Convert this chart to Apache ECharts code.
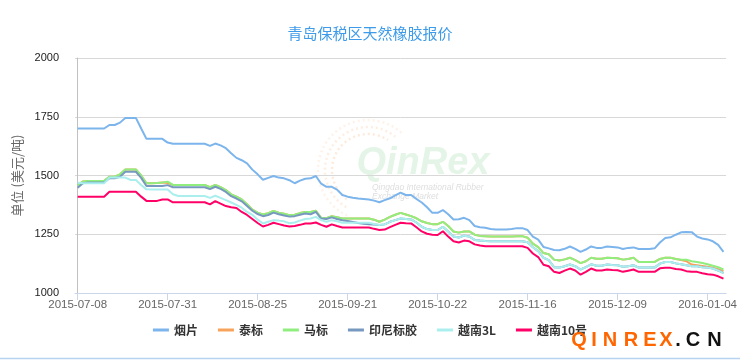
<!DOCTYPE html>
<html>
<head>
<meta charset="utf-8">
<script src="https://cdn.jsdelivr.net/npm/echarts@6/dist/echarts.min.js"></script>
<style>html,body{margin:0;padding:0;background:#fff}#c{width:740px;height:362px}</style>
</head>
<body>
<div id="c"></div>
<script>
var dates = ['2015-07-08','2015-07-09','2015-07-10','2015-07-13','2015-07-14','2015-07-15','2015-07-16','2015-07-17','2015-07-20','2015-07-21','2015-07-22','2015-07-23','2015-07-24','2015-07-27','2015-07-28','2015-07-29','2015-07-30','2015-07-31',
'2015-08-03','2015-08-04','2015-08-05','2015-08-06','2015-08-07','2015-08-10','2015-08-11','2015-08-12','2015-08-13','2015-08-14','2015-08-17','2015-08-18','2015-08-19','2015-08-20','2015-08-21','2015-08-24','2015-08-25',
'2015-08-26','2015-08-27','2015-08-28','2015-08-31','2015-09-01','2015-09-02','2015-09-07','2015-09-08','2015-09-09','2015-09-10','2015-09-11','2015-09-14','2015-09-15','2015-09-16','2015-09-17','2015-09-18','2015-09-21',
'2015-09-22','2015-09-23','2015-09-24','2015-09-25','2015-09-28','2015-09-29','2015-10-08','2015-10-09','2015-10-12','2015-10-13','2015-10-14','2015-10-15','2015-10-16','2015-10-19','2015-10-20','2015-10-21','2015-10-22',
'2015-10-23','2015-10-26','2015-10-27','2015-10-28','2015-10-29','2015-10-30','2015-11-02','2015-11-03','2015-11-04','2015-11-05','2015-11-06','2015-11-09','2015-11-10','2015-11-11','2015-11-12','2015-11-13','2015-11-16',
'2015-11-17','2015-11-18','2015-11-19','2015-11-20','2015-11-23','2015-11-24','2015-11-25','2015-11-26','2015-11-27','2015-11-30','2015-12-01','2015-12-02','2015-12-03','2015-12-04','2015-12-07','2015-12-08','2015-12-09',
'2015-12-10','2015-12-11','2015-12-14','2015-12-15','2015-12-16','2015-12-17','2015-12-18','2015-12-21','2015-12-22','2015-12-23','2015-12-24','2015-12-25','2015-12-28','2015-12-29','2015-12-30','2015-12-31','2016-01-04',
'2016-01-05','2016-01-06','2016-01-07'];

var tickLabels = ['2015-07-08','2015-07-31','2015-08-25','2015-09-21','2015-10-22','2015-11-16','2015-12-09','2016-01-04'];
var seriesNames = ['烟片','泰标','马标','印尼标胶','越南3L','越南10号'];

var yanpian = [1700,1700,1700,1700,1700,1700, 1715,1715,1725,1745,1745,1745, 1700,1656,1656,1656,1656,1640, 1635,1635,1635,1635,1635,1635,1635,
1626,1636,1628,1616,1595, 1575,1565,1552,1525,1505, 1482,1490,1498,1491,1488, 1480,1467,1478,1486,1488,
1498,1465,1452,1452,1440, 1417,1410,1405,1402,1400, 1398,1393,1386,1395,1403, 1415,1427,1417,1417,1400,
1385,1365,1341,1341,1353, 1335,1313,1314,1320,1310, 1285,1280,1278,1272,1270, 1270,1270,1272,1276,1276,
1268,1240,1227,1196,1190, 1183,1182,1188,1198,1188, 1175,1185,1198,1192,1192, 1198,1196,1194,1187,1192,
1194,1187,1187,1187,1190, 1215,1234,1237,1248,1258, 1260,1259,1240,1232,1228, 1220,1205,1175];

var taibiao = [1458,1475,1477,1477,1477,1477, 1495,1495,1505,1526,1526,1526, 1500,1467,1467,1468,1470,1468, 1460,1460,1460,1460,1460,1460,1460,
1450,1460,1450,1438,1420, 1410,1398,1378,1355,1342, 1334,1340,1349,1342,1337, 1331,1333,1340,1345,1345,
1350,1320,1318,1327,1322, 1317,1317,1317,1317,1317, 1317,1312,1303,1312,1324, 1333,1341,1334,1327,1318,
1305,1298,1293,1293,1303, 1285,1262,1257,1262,1262, 1248,1243,1242,1240,1240, 1240,1240,1240,1241,1242,
1235,1210,1195,1170,1165, 1142,1138,1143,1150,1140, 1127,1135,1150,1146,1146, 1150,1149,1148,1142,1145,
1150,1132,1132,1132,1132, 1145,1150,1150,1145,1140, 1135,1121,1118,1115,1112, 1108,1101,1093];

var mabiao = [1458,1475,1477,1477,1477,1477, 1495,1495,1505,1526,1526,1526, 1500,1467,1467,1468,1470,1474, 1460,1460,1460,1460,1460,1460,1460,
1450,1460,1450,1438,1420, 1410,1398,1378,1355,1342, 1334,1340,1349,1342,1337, 1331,1333,1340,1345,1345,
1350,1320,1318,1327,1322, 1317,1317,1317,1317,1317, 1317,1312,1303,1312,1324, 1333,1341,1334,1327,1318,
1305,1298,1293,1293,1303, 1285,1262,1257,1262,1262, 1248,1243,1242,1240,1240, 1240,1240,1240,1241,1242,
1235,1210,1195,1170,1165, 1142,1138,1143,1150,1140, 1127,1135,1150,1146,1146, 1150,1149,1148,1142,1145,
1150,1132,1132,1132,1132, 1145,1150,1150,1145,1142, 1142,1135,1132,1128,1122, 1116,1110,1100];

var yinni = [1448,1467,1470,1470,1470,1470, 1488,1488,1495,1516,1516,1516, 1490,1455,1455,1455,1455,1459, 1450,1450,1450,1450,1450,1450,1450,
1442,1452,1443,1430,1412, 1402,1390,1370,1350,1336, 1327,1332,1342,1335,1330, 1325,1327,1333,1338,1335,
1345,1317,1315,1322,1315, 1310,1306,1302,1298,1295, 1293,1291,1289,1292,1303, 1310,1317,1315,1313,1300,
1282,1272,1268,1268,1282, 1262,1240,1236,1244,1240, 1226,1223,1221,1220,1220, 1220,1220,1220,1220,1220,
1216,1195,1178,1150,1140, 1110,1108,1114,1121,1114, 1100,1110,1122,1116,1116, 1121,1119,1118,1112,1114,
1118,1108,1108,1108,1108, 1125,1132,1132,1126,1122, 1118,1114,1114,1110,1108, 1104,1096,1085];

var yuenan3L = [1469,1467,1467,1467,1467,1467, 1491,1491,1491,1491,1481,1481, 1460,1441,1440,1440,1440,1440, 1420,1413,1413,1413,1413,1413,1413,
1405,1414,1405,1395,1385, 1375,1363,1345,1333,1312, 1296,1303,1310,1308,1305, 1297,1300,1308,1315,1317,
1324,1310,1303,1310,1305, 1299,1299,1299,1299,1299, 1299,1294,1289,1292,1303, 1310,1317,1315,1313,1300,
1282,1272,1268,1268,1282, 1262,1240,1236,1244,1240, 1226,1223,1221,1220,1220, 1220,1220,1220,1220,1220,
1216,1195,1178,1150,1140, 1110,1108,1114,1121,1114, 1100,1110,1122,1116,1116, 1121,1119,1118,1112,1114,
1118,1108,1108,1108,1108, 1125,1132,1132,1126,1122, 1118,1114,1114,1110,1108, 1104,1096,1085];

var yuenan10 = [1410,1410,1410,1410,1410,1410, 1431,1431,1431,1431,1431,1431, 1410,1392,1392,1392,1398,1398, 1386,1386,1386,1386,1386,1386,1386,
1377,1391,1380,1370,1365, 1362,1345,1332,1315,1298, 1283,1290,1299,1293,1287, 1283,1285,1290,1296,1296,
1300,1290,1282,1292,1285, 1279,1279,1279,1279,1279, 1279,1273,1268,1270,1280, 1290,1299,1297,1296,1280,
1262,1252,1248,1247,1263, 1240,1220,1215,1223,1220, 1207,1202,1199,1199,1199, 1199,1199,1199,1199,1199,
1192,1168,1153,1120,1114, 1090,1085,1095,1104,1096, 1078,1090,1104,1096,1096, 1100,1098,1097,1090,1095,
1100,1090,1090,1090,1090, 1105,1107,1107,1102,1100, 1093,1090,1090,1084,1080, 1078,1071,1061];

var colors = ['#7cb5ec','#f7a35c','#90ee7e','#7798BF','#aaeeee','#ff0066'];
var allValues = [yanpian, taibiao, mabiao, yinni, yuenan3L, yuenan10];

var tickIdx = tickLabels.map(function (d) { return dates.indexOf(d); });

var series = seriesNames.map(function (name, k) {
  return {
    name: name,
    type: 'line',
    showSymbol: false,
    symbol: 'none',
    lineStyle: { width: 2, color: colors[k] },
    itemStyle: { color: colors[k] },
    data: allValues[k].map(function (v, i) { return [i, v]; }),
    z: 3 + k
  };
});

var chart = echarts.init(document.getElementById('c'), null, { renderer: 'canvas' });

var qinLetters = [['Q',579],['I',594],['N',610],['R',631],['E',650],['X',666]];
var cnLetters = [['.',678],['C',693],['N',714.5]];
var brand = [];
qinLetters.forEach(function (p) {
  brand.push({ type: 'text', x: p[1], y: 340, z: 10, style: { text: p[0], fill: '#ff6600', font: 'bold 20px "Liberation Sans", Arial', textAlign: 'center', textVerticalAlign: 'middle' } });
});
cnLetters.forEach(function (p) {
  brand.push({ type: 'text', x: p[1], y: 340, z: 10, style: { text: p[0], fill: '#111111', font: 'bold 20px "Liberation Sans", Arial', textAlign: 'center', textVerticalAlign: 'middle' } });
});

var watermark = [
  { type: 'arc', z: 0, shape: { cx: 368, cy: 170, r: 36, startAngle: 2.2, endAngle: 5.3, clockwise: true }, style: { stroke: '#feeadb', lineWidth: 2.5, lineDash: [2, 3], fill: null } },
  { type: 'arc', z: 0, shape: { cx: 368, cy: 170, r: 43, startAngle: 2.1, endAngle: 5.4, clockwise: true }, style: { stroke: '#feeee2', lineWidth: 2.5, lineDash: [2, 3], fill: null } },
  { type: 'arc', z: 0, shape: { cx: 368, cy: 170, r: 50, startAngle: 2.0, endAngle: 5.5, clockwise: true }, style: { stroke: '#fff2e9', lineWidth: 2.5, lineDash: [2, 3], fill: null } },
  { type: 'text', z: 0, x: 423, y: 164, style: { text: 'QinRex', fill: '#e4f5e7', font: 'italic bold 38px "Liberation Sans", Arial', textAlign: 'center', textVerticalAlign: 'middle' } },
  { type: 'text', z: 0, x: 372, y: 188, style: { text: 'Qingdao International Rubber', fill: '#dedede', font: 'italic 8.5px "Liberation Sans", Arial', textAlign: 'left', textVerticalAlign: 'middle' } },
  { type: 'text', z: 0, x: 372, y: 197, style: { text: 'Exchange Market', fill: '#dedede', font: 'italic 8.5px "Liberation Sans", Arial', textAlign: 'left', textVerticalAlign: 'middle' } },
  { type: 'line', z: 0, shape: { x1: 0, y1: 358.5, x2: 740, y2: 358.5 }, style: { stroke: '#b6d3ef', lineWidth: 1.5 } }
];

chart.setOption({
  animation: false,
  color: colors,
  title: {
    text: '青岛保税区天然橡胶报价',
    left: 'center',
    top: 21,
    textStyle: { color: '#3d9be9', fontSize: 15, fontWeight: 'normal', fontFamily: '"Noto Sans CJK SC", sans-serif' }
  },
  legend: {
    data: seriesNames,
    top: 319,
    left: 'center',
    icon: 'rect',
    itemWidth: 16,
    itemHeight: 3,
    itemGap: 20,
    textStyle: { color: '#333333', fontSize: 12, fontWeight: 'bold', fontFamily: '"Noto Sans CJK SC", sans-serif' }
  },
  grid: { left: 75, right: 11, top: 58, bottom: 69, containLabel: false },
  xAxis: {
    type: 'value',
    min: -0.5,
    max: 122.5,
    splitLine: { show: false },
    axisLine: { show: true, lineStyle: { color: '#ccd6eb', width: 1 } },
    axisTick: { show: true, length: 7, customValues: tickIdx, lineStyle: { color: '#ccd6eb' } },
    axisLabel: {
      customValues: tickIdx,
      margin: 6,
      color: '#666666',
      fontSize: 11.5,
      fontFamily: '"Liberation Sans", Arial, sans-serif',
      formatter: function (v) { return dates[Math.round(v)]; }
    }
  },
  yAxis: {
    type: 'value',
    min: 1000,
    max: 2000,
    interval: 250,
    name: '单位 (美元/吨)',
    nameLocation: 'middle',
    nameRotate: 90,
    nameGap: 46,
    nameTextStyle: { color: '#666666', fontSize: 13, fontFamily: '"Noto Sans CJK SC", sans-serif' },
    axisLine: { show: true, lineStyle: { color: '#c0c0c0' } },
    axisTick: { show: false },
    splitLine: { show: true, lineStyle: { color: '#d8d8d8', width: 1 } },
    axisLabel: {
      color: '#222222', fontSize: 11, margin: 16, fontFamily: '"Liberation Sans", Arial, sans-serif',
      formatter: function (v) { return String(v); }
    }
  },
  graphic: { elements: watermark.concat(brand) },
  series: series
});
</script>
</body>
</html>
